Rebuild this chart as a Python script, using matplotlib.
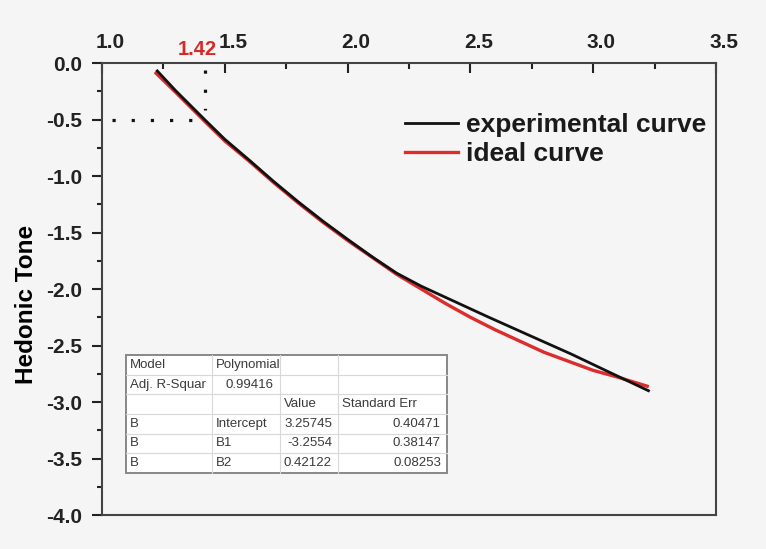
import matplotlib
matplotlib.use("Agg")
import matplotlib.pyplot as plt
import matplotlib.transforms as mtrans
from matplotlib.ticker import MultipleLocator
from matplotlib.patches import Rectangle

# ---- data ----
exp_x = [1.225, 1.30, 1.42, 1.50, 1.60, 1.70, 1.80, 1.90, 2.00, 2.10, 2.20, 2.30,
         2.45, 2.57, 2.75, 2.91, 3.05, 3.225]
exp_y = [-0.07, -0.245, -0.505, -0.675, -0.86, -1.05, -1.23, -1.40, -1.56, -1.715,
         -1.86, -1.975, -2.125, -2.245, -2.42, -2.575, -2.72, -2.90]

ideal_x = [1.22, 1.30, 1.42, 1.50, 1.60, 1.70, 1.80, 1.90, 2.00, 2.10, 2.20, 2.30,
           2.40, 2.50, 2.60, 2.70, 2.80, 2.90, 3.00, 3.10, 3.22]
ideal_y = [-0.09, -0.26, -0.52, -0.69, -0.87, -1.06, -1.24, -1.41, -1.57, -1.72,
           -1.87, -2.00, -2.13, -2.25, -2.36, -2.46, -2.56, -2.64, -2.72, -2.78, -2.86]

marker_x = 1.42
marker_y = -0.5
marker_label = "1.42"

table_rows = [
    ["Model", "Polynomial", "", ""],
    ["Adj. R-Squar", "0.99416", "", ""],
    ["", "", "Value", "Standard Err"],
    ["B", "Intercept", "3.25745", "0.40471"],
    ["B", "B1", "-3.2554", "0.38147"],
    ["B", "B2", "0.42122", "0.08253"],
]
table_align = [
    ["left", "left", "left", "left"],
    ["left", "right", "left", "left"],
    ["left", "left", "left", "left"],
    ["left", "left", "right", "right"],
    ["left", "left", "right", "right"],
    ["left", "left", "right", "right"],
]

plt.rcParams['font.family'] = ['Liberation Sans', 'DejaVu Sans']
bg = '#f5f5f5'
fig = plt.figure(figsize=(7.66, 5.49), dpi=100, facecolor=bg)
ax = fig.add_axes([0.1332, 0.0619, 0.8015, 0.8233], facecolor=bg)

ax.plot(ideal_x, ideal_y, color='#dd2c2c', lw=2.4, label='ideal curve', zorder=3)
ax.plot(exp_x, exp_y, color='#111111', lw=2.0, label='experimental curve', zorder=4)

# dotted guide lines
ax.plot([marker_x, marker_x], [-0.06, -0.42], color='#111111', lw=2.3,
        linestyle=(0, (1, 5)), zorder=2)
ax.plot([1.04, 1.40], [marker_y, marker_y], color='#111111', lw=2.3,
        linestyle=(0, (1, 5)), zorder=2)

ax.set_xlim(1.0, 3.5)
ax.set_ylim(-4.0, 0.0)

ax.xaxis.tick_top()
ax.xaxis.set_major_locator(MultipleLocator(0.5))
ax.xaxis.set_minor_locator(MultipleLocator(0.25))
ax.yaxis.set_major_locator(MultipleLocator(0.5))
ax.yaxis.set_minor_locator(MultipleLocator(0.25))
ax.xaxis.set_major_formatter(plt.FormatStrFormatter('%.1f'))
ax.yaxis.set_major_formatter(plt.FormatStrFormatter('%.1f'))

ax.tick_params(axis='x', which='major', direction='in', length=7, width=1.5,
               colors='#222222', labelsize=15, pad=8)
ax.tick_params(axis='x', which='minor', direction='in', length=4, width=1.5,
               colors='#222222')
ax.tick_params(axis='y', which='major', direction='out', length=7, width=1.5,
               colors='#222222', labelsize=15, pad=7)
ax.tick_params(axis='y', which='minor', direction='out', length=3.5, width=1.5,
               colors='#222222')
for s in ax.spines.values():
    s.set_color('#444444')
    s.set_linewidth(1.5)

fig.canvas.draw()
offset = mtrans.ScaledTranslation(8 / 100, 0, fig.dpi_scale_trans)
for tick in ax.xaxis.get_major_ticks():
    tick.label2.set_transform(tick.label2.get_transform() + offset)
    tick.label2.set_fontweight('bold')
for lab in ax.get_yticklabels():
    lab.set_fontweight('bold')

ax.set_ylabel('Hedonic Tone', fontsize=17.5, fontweight='bold')
ax.yaxis.set_label_coords(-0.104, 0.465)

ax.text(1.39, 0.04, marker_label, color='#d62a2a', fontsize=14.5,
        fontweight='bold', ha='center', va='bottom', zorder=6, clip_on=False)

handles, labels = ax.get_legend_handles_labels()
order = [1, 0]
leg = ax.legend([handles[i] for i in order], [labels[i] for i in order],
                loc='upper left', bbox_to_anchor=(0.476, 0.912), frameon=False,
                prop={'weight': 'bold', 'size': 19}, handlelength=2.0,
                handletextpad=0.3, labelspacing=0.18, borderaxespad=0)
for t in leg.get_texts():
    t.set_color('#1a1a1a')

# ---- fit-result table ----
tx0, tx1 = 0.039, 0.562
ty0, ty1 = 0.093, 0.354
col_w = [86, 68, 58, 109]
tot = sum(col_w)
col_edges = [tx0]
for w in col_w:
    col_edges.append(col_edges[-1] + (tx1 - tx0) * w / tot)
nrows = len(table_rows)
rh = (ty1 - ty0) / nrows
ax.add_patch(Rectangle((tx0, ty0), tx1 - tx0, ty1 - ty0, transform=ax.transAxes,
                       facecolor='white', edgecolor='#888888', lw=1.4, zorder=6))
for i in range(1, nrows):
    y = ty1 - i * rh
    ax.plot([tx0, tx1], [y, y], transform=ax.transAxes, color='#d8d8d8', lw=0.8, zorder=7)
for e in col_edges[1:-1]:
    ax.plot([e, e], [ty0, ty1], transform=ax.transAxes, color='#d8d8d8', lw=0.8, zorder=7)
for r, row in enumerate(table_rows):
    yc = ty1 - (r + 0.5) * rh
    for c, txt in enumerate(row):
        if not txt:
            continue
        al = table_align[r][c]
        if al == 'left':
            x = col_edges[c] + 0.006
        else:
            x = col_edges[c + 1] - 0.010
        ax.text(x, yc, txt, transform=ax.transAxes, ha=al, va='center',
                fontsize=9.5, color='#3a3a3a', zorder=8)

fig.savefig('out.png', dpi=100, facecolor=bg)
